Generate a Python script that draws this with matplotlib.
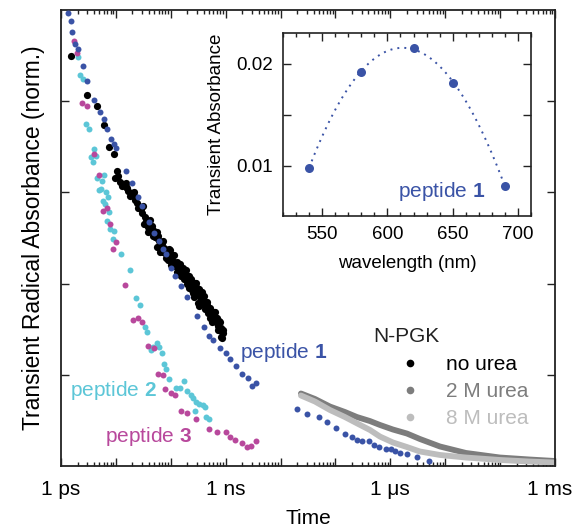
import numpy as np
import matplotlib
matplotlib.use("Agg")
import matplotlib.pyplot as plt
import matplotlib.transforms as mtransforms
from matplotlib.ticker import FixedLocator, NullFormatter, FixedFormatter, LogLocator, MultipleLocator
from matplotlib.lines import Line2D

plt.rcParams['font.family'] = ['Liberation Sans', 'DejaVu Sans']
plt.rcParams['mathtext.fontset'] = 'custom'
plt.rcParams['mathtext.rm'] = 'Liberation Sans'
plt.rcParams['mathtext.bf'] = 'Liberation Sans:bold'

# ---------------- data (time in ps) ----------------
pep1_t = [1.36, 1.49, 1.61, 1.80, 2.01, 2.52, 3.01, 4.04, 5.07, 6.07, 6.97, 8.04, 9.12, 10.0,
          15.1, 19.9, 24.9, 30.3, 40.6, 50.0, 61.0, 71.1, 81.8, 101, 118, 153, 201, 300, 397,
          496, 595, 798, 1012, 1197, 1541, 1996, 2546, 3013, 3608,
          19900, 30600, 50700, 71500, 102000, 151000, 200000, 252000, 300000, 407000, 513000,
          612000, 832000, 1.01e6, 1.24e6, 1.50e6, 2.05e6, 3.05e6, 5.15e6]
pep1_v = [4.97, 4.88, 4.76, 4.63, 4.57, 4.39, 4.22, 4.01, 3.88, 3.81, 3.69, 3.59, 3.53, 3.49,
          3.23, 3.10, 2.95, 2.85, 2.67, 2.55, 2.47, 2.38, 2.32, 2.17, 2.08, 1.97, 1.85, 1.64, 1.52,
          1.43, 1.38, 1.29, 1.24, 1.17, 1.10, 1.01, 0.97, 0.88, 0.91,
          0.625, 0.565, 0.534, 0.479, 0.413, 0.354, 0.315, 0.282, 0.277, 0.271, 0.227,
          0.206, 0.186, 0.181, 0.159, 0.145, 0.134, 0.096, 0.058]

pep2_t = [2.01, 2.25, 2.52, 2.85, 3.24, 3.52, 3.78, 4.04, 4.29, 4.58, 4.86, 5.29, 5.51, 5.82,
          6.07, 6.25, 6.52, 6.88, 7.27, 7.58, 7.91, 8.74, 9.12, 12.6, 17.8, 23.0, 27.8, 33.9,
          37.3, 44.2, 48.0, 55.3, 61.8, 68.3, 74.3, 83.5, 94.7, 124, 150, 175, 197, 230, 257,
          276, 288, 330, 386, 420, 443, 503]
pep2_v = [4.48, 4.29, 4.24, 3.75, 3.70, 3.39, 3.33, 3.48, 3.40, 3.16, 3.03, 3.04, 3.13, 2.91,
          3.19, 2.87, 3.00, 2.69, 2.95, 2.78, 2.60, 2.49, 2.58, 2.32, 2.15, 1.84, 1.76, 1.52,
          1.47, 1.27, 1.31, 1.35, 1.31, 1.24, 1.12, 1.06, 0.955, 0.850, 0.853, 0.935, 0.819,
          0.778, 0.742, 0.603, 0.705, 0.685, 0.669, 0.652, 0.532, 0.515]

pep3_t = [1.75, 1.98, 2.44, 2.95, 3.96, 4.94, 5.87, 6.88, 7.91, 8.97, 10.0, 14.8, 20.2, 24.9,
          29.9, 38.9, 49.4, 59.7, 71.1, 79.4, 102, 120, 152, 199, 294, 503, 709, 1004, 1213,
          1509, 1943, 2496, 2951, 3565]
pep3_v = [4.66, 4.53, 3.98, 3.95, 3.42, 3.19, 2.80, 2.83, 2.65, 2.38, 2.46, 1.99, 1.60, 1.62,
          1.58, 1.32, 1.29, 1.01, 0.995, 0.844, 0.800, 0.778, 0.605, 0.578, 0.512, 0.404, 0.370,
          0.370, 0.316, 0.283, 0.252, 0.208, 0.216, 0.276]

pgk0_t = [1.49, 3.01, 4.53, 6.07, 7.48, 9.12, 9.75, 10.47, 11.88, 13.64, 15.09, 15.93, 16.82,
          19.40, 21.10, 22.28, 24.23, 26.35, 28.66, 30.27, 32.91, 33.89, 35.34, 37.95, 40.09,
          43.59, 45.46, 47.41, 50.06, 51.54, 55.37, 55.37, 58.46, 60.97, 63.58, 66.31, 69.15,
          72.11, 75.18, 78.42, 84.21, 85.27, 90.07, 90.07, 96.7, 103.8, 105.2, 111.1, 115.8,
          119.3, 128.1, 129.7, 135.3, 141.1, 147.1, 153.4, 160.0, 168.9, 181.4, 194.9, 197.3,
          205.8, 214.6, 223.7, 240.3, 243.4, 257.0, 257.0, 275.9, 296.3, 300.1, 316.9, 326.4,
          340.4, 340.4, 365.4, 385.9, 385.9, 402.4, 419.8, 450.8, 456.4, 482.0, 517.6, 517.6,
          539.8, 562.9, 587.0, 612.2, 638.4, 685.6, 694.2, 724.0, 755.1, 810.9, 821.2, 821.2,
          881.8, 892.9,
          10.92, 12.91, 15.28, 18.06, 21.37, 25.27, 31.17, 38.43, 41.80, 47.41, 56.06, 63.58,
          72.11, 81.77, 92.73, 100.8, 114.4, 129.7, 147.1, 173.9, 189.2, 214.6, 233.3, 264.6,
          287.7, 326.4, 370.1, 419.8, 496.4, 562.9, 638.4, 724.0, 787.4, 856.2]
pgk0_v = [4.50, 4.07, 3.95, 3.74, 3.50, 3.42, 3.16, 3.23, 3.11, 3.09, 3.06, 3.05, 3.02, 2.99,
          2.96, 2.92, 2.88, 2.84, 2.82, 2.77, 2.65, 2.73, 2.69, 2.62, 2.68, 2.60, 2.63, 2.59,
          2.57, 2.51, 2.50, 2.40, 2.52, 2.47, 2.42, 2.37, 2.45, 2.35, 2.39, 2.34, 2.37, 2.32,
          2.29, 2.26, 2.37, 2.26, 2.31, 2.24, 2.23, 2.19, 2.18, 2.24, 2.20, 2.12, 2.15, 2.08,
          2.11, 2.17, 2.13, 2.07, 2.00, 2.04, 2.08, 2.02, 1.98, 1.93, 1.98, 1.90, 2.01, 1.95,
          1.89, 1.79, 1.94, 1.91, 1.85, 1.85, 1.82, 1.78, 1.86, 1.72, 1.77, 1.80, 1.68, 1.73,
          1.62, 1.64, 1.69, 1.60, 1.69, 1.63, 1.57, 1.62, 1.54, 1.59, 1.51, 1.48, 1.41, 1.46,
          1.49,
          3.18, 3.07, 3.10, 2.96, 3.00, 2.83, 2.85, 2.57, 2.70, 2.52, 2.57, 2.35,
          2.47, 2.28, 2.38, 2.20, 2.31, 2.13, 2.21, 2.05, 2.15, 1.95, 2.05, 1.85,
          2.01, 1.75, 1.91, 1.80, 1.71, 1.58, 1.69, 1.49, 1.58, 1.40]

urea_t = [23520, 42330, 79400, 148900, 246400, 425000, 646600, 1.115e6, 2.006e6, 3.46e6,
          8.01e6, 2.38e7, 9.92e7, 3.49e8, 9.95e8]
pgk2_v = [0.795, 0.735, 0.652, 0.592, 0.537, 0.493, 0.450, 0.400, 0.356, 0.296, 0.214, 0.143,
          0.093, 0.071, 0.055]
pgk8_v = [0.773, 0.707, 0.614, 0.537, 0.468, 0.395, 0.323, 0.258, 0.208, 0.159, 0.121, 0.093,
          0.066, 0.049, 0.038]

x_tick_pos = [1, 1e3, 1e6, 1e9]
x_tick_lab = ['1 ps', '1 ns', '1 \u03bcs', '1 ms']

inset_wl = [540, 580, 620, 650, 690]
inset_abs = [0.00984, 0.01919, 0.02157, 0.01814, 0.00804]

legend_labels = ['no urea', '2 M urea', '8 M urea']

# ---------------- style ----------------
BLUE = '#3a53a6'
CYAN = '#5cc6d7'
MAG = '#b8489c'
BLACK = '#000000'
GRAY2 = '#7d7d7d'
GRAY8 = '#bdbdbd'
FS = 15

fig = plt.figure(figsize=(5.75, 5.27), dpi=100)
W, H = 575, 527
ax = fig.add_axes([61 / W, 1 - 466 / H, (555 - 61) / W, (466 - 10) / H])
ax.set_xscale('log')

ms = 4.3
ax.plot(urea_t, pgk2_v, color=GRAY2, lw=4.2, solid_capstyle='round', zorder=2)
ax.plot(urea_t, pgk8_v, color=GRAY8, lw=4.2, solid_capstyle='round', zorder=2)
ax.plot(pgk0_t, pgk0_v, 'o', color=BLACK, ms=5.2, mew=0, zorder=3)
ax.plot(pep2_t, pep2_v, 'o', color=CYAN, ms=ms, mew=0, zorder=4)
ax.plot(pep3_t, pep3_v, 'o', color=MAG, ms=ms, mew=0, zorder=4)
ax.plot(pep1_t, pep1_v, 'o', color=BLUE, ms=ms, mew=0, zorder=5, clip_on=False)

ax.set_xlim(1, 1e9)
ax.set_ylim(0, 5)
major_pos = [10.0 ** k for k in range(10)]
major_lab = [x_tick_lab[x_tick_pos.index(p)] if p in x_tick_pos else '' for p in major_pos]
ax.xaxis.set_major_locator(FixedLocator(major_pos))
ax.xaxis.set_major_formatter(FixedFormatter(major_lab))
ax.xaxis.set_minor_locator(LogLocator(base=10, subs=np.arange(2, 10), numticks=20))
ax.xaxis.set_minor_formatter(NullFormatter())
ax.yaxis.set_major_locator(FixedLocator([1, 2, 3, 4]))
ax.yaxis.set_major_formatter(NullFormatter())
ax.tick_params(which='both', direction='in', top=True, right=True, width=1.0, color='#222222')
ax.tick_params(which='major', length=6)
ax.tick_params(which='minor', length=3)
ax.tick_params(axis='x', which='major', pad=10, labelsize=FS)
for s in ax.spines.values():
    s.set_linewidth(1.3)
    s.set_color('#222222')
ax.set_xlabel('Time', fontsize=FS, labelpad=7)
ax.set_ylabel('Transient Radical Absorbance (norm.)', fontsize=16.5, labelpad=8)

# keep the last tick label inside the figure
fig.canvas.draw()
lbls = ax.get_xticklabels()
lbls[-1].set_transform(lbls[-1].get_transform() +
                       mtransforms.ScaledTranslation(-5 / 100, 0, fig.dpi_scale_trans))

ax.text(1820, 1.25, 'peptide $\\mathbf{1}$', color=BLUE, fontsize=FS, va='center', ha='left')
ax.text(1.46, 0.83, 'peptide $\\mathbf{2}$', color=CYAN, fontsize=FS, va='center', ha='left')
ax.text(6.3, 0.32, 'peptide $\\mathbf{3}$', color=MAG, fontsize=FS, va='center', ha='left')

# legend
fig.text(373 / W, 1 - 337 / H, 'N-PGK', fontsize=FS, color='#222222', va='center', ha='left')
handles = [Line2D([], [], ls='none', marker='o', ms=5.5, mew=0, color=c) for c in (BLACK, GRAY2, GRAY8)]
leg = ax.legend(handles, legend_labels, loc='upper left', bbox_to_anchor=(400 / W, 1 - 355 / H),
                bbox_transform=fig.transFigure, frameon=False, fontsize=FS, handlelength=1.0,
                handletextpad=1.2, labelspacing=0.39, borderpad=0, borderaxespad=0,
                labelcolor=[BLACK, GRAY2, GRAY8])

# ---------------- inset ----------------
axi = fig.add_axes([283 / W, 1 - 216 / H, 248 / W, 183 / H])
# smooth least-squares fit (cubic) through the measured points
coef = np.polyfit(inset_wl, inset_abs, 3)
wl_fit = np.linspace(min(inset_wl), max(inset_wl), 200)
axi.plot(wl_fit, np.polyval(coef, wl_fit), color=BLUE, lw=1.4, ls=(0, (1, 2.6)))
axi.plot(inset_wl, inset_abs, 'o', color=BLUE, ms=6.5, mew=0)
axi.set_xlim(520, 710)
axi.set_ylim(0.0051, 0.0230)
axi.xaxis.set_major_locator(FixedLocator([550, 600, 650, 700]))
axi.xaxis.set_minor_locator(MultipleLocator(10))
axi.yaxis.set_major_locator(FixedLocator([0.01, 0.02]))
axi.yaxis.set_major_formatter(FixedFormatter(['0.01', '0.02']))
axi.yaxis.set_minor_locator(FixedLocator([0.015]))
axi.tick_params(which='both', direction='in', top=True, right=True, labelsize=13.5, width=1.0,
                color='#222222')
axi.tick_params(which='major', length=6, pad=7)
axi.tick_params(axis='x', which='minor', length=3)
axi.tick_params(axis='y', which='minor', length=6)
for s in axi.spines.values():
    s.set_linewidth(1.2)
    s.set_color('#222222')
axi.set_xlabel('wavelength (nm)', fontsize=13.5, labelpad=9)
axi.set_ylabel('Transient Absorbance', fontsize=13.5, labelpad=8)
axi.text(608, 0.00752, 'peptide $\\mathbf{1}$', color=BLUE, fontsize=FS, va='center', ha='left')

fig.savefig('out.png', dpi=100)
